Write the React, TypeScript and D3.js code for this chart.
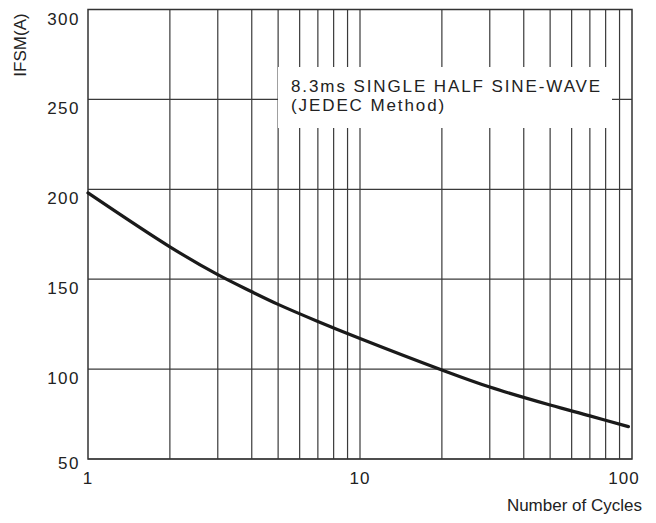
import React from "react";
import * as d3 from "d3";

const cycles = [1, 2, 3, 4, 5, 7, 10, 20, 30, 50, 70, 97];
const ifsm = [198, 168, 152.5, 143, 136, 126.5, 117, 99.5, 90, 80, 74, 68];
const yTicks = [50, 100, 150, 200, 250, 300];
const xTickLabels = [1, 10, 100];
const xGrid = [2, 3, 4, 5, 6, 7, 8, 9, 10, 20, 30, 40, 50, 60, 70, 80, 90];
const annotation = ["8.3ms SINGLE HALF SINE-WAVE", "(JEDEC Method)"];

const W = 656, H = 523;
const L = 88, R = 632, T = 9.5, B = 459;
const FONT = "Liberation Sans, Arial, sans-serif";

export default function App() {
  const x = d3.scaleLog().domain([1, 100]).range([L, R]);
  const y = d3.scaleLinear().domain([50, 300]).range([B, T]);
  const line = d3.line<number>().x((_, i) => x(cycles[i])).y((d) => y(d)).curve(d3.curveCatmullRom);
  const grid = "#3a3a3a";
  return (
    <svg width={W} height={H} style={{ position: "absolute", left: 0, top: 0 }} fontFamily={FONT}>
      <rect x={0} y={0} width={W} height={H} fill="#fff" />
      {yTicks.map((t) => (
        <line key={"h" + t} x1={L} x2={R} y1={y(t)} y2={y(t)} stroke={grid} strokeWidth={1.2} />
      ))}
      {xGrid.map((t) => (
        <line key={"v" + t} x1={x(t)} x2={x(t)} y1={T} y2={B} stroke={grid} strokeWidth={1.2} />
      ))}
      <rect x={278} y={67} width={334} height={61} fill="#fff" />
      <rect x={L} y={T} width={R - L} height={B - T} fill="none" stroke="#333" strokeWidth={1.5} />
      <path d={line(ifsm) || ""} fill="none" stroke="#1a1a1a" strokeWidth={3.2} strokeLinecap="round" />
      {annotation.map((s, i) => (
        <text key={s} x={291} y={91.5 + i * 19.5} fontSize={17} letterSpacing={1.9} fill="#222">
          {s}
        </text>
      ))}
      {yTicks.map((t) => (
        <text key={"yl" + t} x={80} y={y(t) + (t === 50 ? 10 : 15)} fontSize={17} letterSpacing={1.5} textAnchor="end" fill="#222">
          {t}
        </text>
      ))}
      {xTickLabels.map((t) => (
        <text key={"xl" + t} x={x(t) + (t === 100 ? -8 : 0)} y={483.5} fontSize={17} letterSpacing={1} textAnchor="middle" fill="#222">
          {t}
        </text>
      ))}
      <text x={642} y={511} fontSize={17} textAnchor="end" fill="#222">Number of Cycles</text>
      <text transform="translate(25.5,45) rotate(-90)" fontSize={17} textAnchor="middle" fill="#222">IFSM(A)</text>
    </svg>
  );
}
